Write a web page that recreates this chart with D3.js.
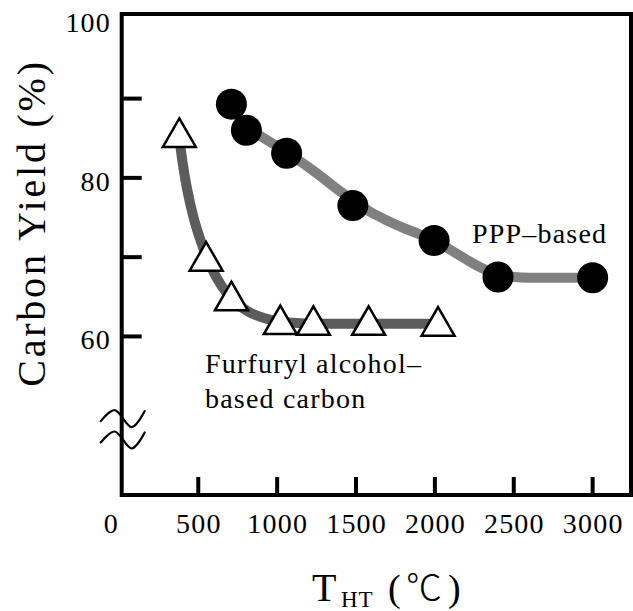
<!DOCTYPE html>
<html>
<head>
<meta charset="utf-8">
<script src="https://cdn.jsdelivr.net/npm/d3@7"></script>
<style>
  html, body { margin: 0; padding: 0; background: #fff; }
  svg { display: block; }
  text { font-family: "Liberation Serif", "Times New Roman", serif; fill: #000; }
</style>
</head>
<body>
<svg id="chart" width="633" height="611"></svg>
<script>
// ---- Data ----
const tempPPP  = [710, 805, 1060, 1480, 1995, 2400, 3000];
const yieldPPP = [89.3, 86.0, 83.1, 76.5, 72.1, 67.5, 67.4];

const tempFA  = [380, 550, 710, 1020, 1230, 1580, 2020];
const yieldFA = [85.1, 69.5, 64.5, 61.5, 61.4, 61.4, 61.3];

// smooth trend curves
const curveTempPPP  = [710, 800, 900, 1000, 1100, 1250, 1400, 1500, 1600, 1700, 1800, 1900, 2000, 2100, 2200, 2300, 2400, 2500, 2600, 3000];
const curveYieldPPP = [89.0, 86.6, 85.2, 84.0, 82.7, 80.6, 78.3, 76.9, 75.6, 74.6, 73.7, 72.9, 72.0, 70.9, 69.7, 68.6, 67.8, 67.5, 67.4, 67.4];

const curveTempFA  = [380, 400, 430, 470, 520, 580, 650, 730, 820, 920, 1050, 1300, 2020];
const curveYieldFA = [85.0, 82.0, 78.5, 75.0, 71.8, 68.8, 66.3, 64.4, 63.1, 62.3, 61.8, 61.6, 61.6];

const xTickValues = [0, 500, 1000, 1500, 2000, 2500, 3000];
const yTickValues = [60, 70, 80, 90];
const yLabelValues = [60, 80, 100];
const breakValues = [49.7, 47.0];

// ---- Scales ----
const svg = d3.select("#chart");
const x = d3.scaleLinear().domain([0, 3240]).range([119.4, 630.5]);
const y = d3.scaleLinear().domain([40, 100.67]).range([495, 14]);

const fLeft = 121.7, fRight = 631, fTop = 14, fBottom = 495;

// ---- Curves ----
const line = d3.line().x(d => x(d[0])).y(d => y(d[1])).curve(d3.curveMonotoneX);

svg.append("path")
  .datum(curveTempFA.map((t, i) => [t, curveYieldFA[i]]))
  .attr("d", line)
  .attr("fill", "none").attr("stroke", "#5c5c5c").attr("stroke-width", 10)
  .attr("stroke-linecap", "round");

svg.append("path")
  .datum(curveTempPPP.map((t, i) => [t, curveYieldPPP[i]]))
  .attr("d", line)
  .attr("fill", "none").attr("stroke", "#808080").attr("stroke-width", 10)
  .attr("stroke-linecap", "round");

// ---- Markers ----
const tri = d3.symbol().type(d3.symbolTriangle).size(470);
svg.append("g").selectAll("path")
  .data(tempFA.map((t, i) => [t, yieldFA[i]]))
  .join("path")
  .attr("d", tri)
  .attr("transform", d => `translate(${x(d[0])},${y(d[1])})`)
  .attr("fill", "#fff").attr("stroke", "#000").attr("stroke-width", 2.5)
  .attr("stroke-linejoin", "miter");

svg.append("g").selectAll("circle")
  .data(tempPPP.map((t, i) => [t, yieldPPP[i]]))
  .join("circle")
  .attr("cx", d => x(d[0])).attr("cy", d => y(d[1]))
  .attr("r", 15.5).attr("fill", "#000");

// ---- Frame ----
const frame = svg.append("g").attr("stroke", "#000").attr("stroke-width", 4).attr("fill", "none");
frame.append("path").attr("d", `M${fLeft},${fTop}H${fRight}V${fBottom}H${fLeft}Z`).attr("stroke-linejoin", "miter");

// x ticks (inward)
frame.selectAll(".xt").data(xTickValues.filter(v => v > 0)).join("line")
  .attr("x1", d => x(d)).attr("x2", d => x(d))
  .attr("y1", fBottom).attr("y2", fBottom - 18);

// y ticks (inward)
frame.selectAll(".yt").data(yTickValues).join("line")
  .attr("x1", fLeft).attr("x2", fLeft + 20)
  .attr("y1", d => y(d)).attr("y2", d => y(d));

// axis break marks
const wave = d3.line().curve(d3.curveCatmullRom);
const waveShape = [[-21, 3], [-7, -8], [10, 9], [23, -7]];
svg.append("g").selectAll("path").data(breakValues).join("path")
  .attr("d", v => wave(waveShape.map(p => [fLeft + p[0], y(v) + p[1]])))
  .attr("fill", "none").attr("stroke", "#000").attr("stroke-width", 2.2)
  .attr("stroke-linecap", "round");

// ---- Tick labels ----
svg.append("g").selectAll("text").data(xTickValues).join("text")
  .attr("x", d => d === 0 ? x(d) - 8 : x(d) + 0.6)
  .attr("y", 533)
  .attr("text-anchor", "middle")
  .attr("font-size", 28).attr("letter-spacing", 1.2)
  .text(d => d);

svg.append("g").selectAll("text").data(yLabelValues).join("text")
  .attr("x", 111)
  .attr("y", d => y(d) + 13)
  .attr("text-anchor", "end")
  .attr("font-size", 28).attr("letter-spacing", 1.2)
  .text(d => d);

// ---- Axis titles ----
svg.append("text")
  .attr("transform", "translate(45,223) rotate(-90)")
  .attr("text-anchor", "middle")
  .attr("font-size", 40).attr("letter-spacing", 2.8)
  .text("Carbon Yield (%)");

const xt = svg.append("text").attr("y", 601);
xt.append("tspan").attr("x", 312).attr("font-size", 40).text("T");
xt.append("tspan").attr("x", 341).attr("y", 607).attr("font-size", 23).attr("letter-spacing", 1).text("HT");
xt.append("tspan").attr("x", 388).attr("y", 601).attr("font-size", 38).text("(");
xt.append("tspan").attr("x", 406).attr("style", "font-family:'Noto Sans CJK JP'").attr("font-size", 36).attr("font-weight", 300).text("℃");
xt.append("tspan").attr("x", 448).attr("font-size", 38).text(")");

// ---- Series labels ----
svg.append("text").attr("x", 472).attr("y", 243)
  .attr("font-size", 28).attr("letter-spacing", 1.2)
  .text("PPP–based");

const fa = svg.append("text").attr("font-size", 28).attr("letter-spacing", 1.2);
fa.append("tspan").attr("x", 205).attr("y", 373).text("Furfuryl alcohol–");
fa.append("tspan").attr("x", 205).attr("y", 408).text("based carbon");
</script>
</body>
</html>
